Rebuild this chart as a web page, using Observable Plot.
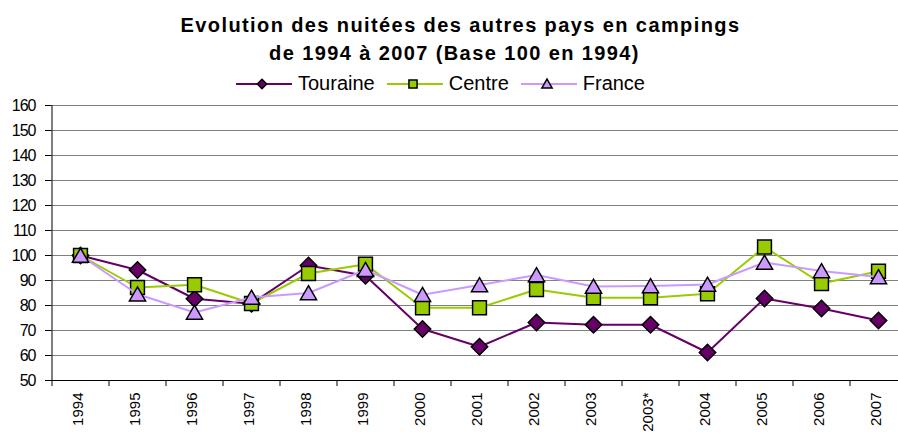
<!DOCTYPE html>
<html><head><meta charset="utf-8">
<script src="https://cdn.jsdelivr.net/npm/d3@7"></script>
<script src="https://cdn.jsdelivr.net/npm/@observablehq/plot@0.6"></script>
<style>
body{margin:0;background:#fff;font-family:"Liberation Sans",Arial,sans-serif;}
#wrap{position:relative;width:898px;height:434px;overflow:hidden;background:#fff;}
.t{position:absolute;left:0;text-align:center;font-weight:bold;font-size:20px;line-height:20px;letter-spacing:1.4px;white-space:nowrap;color:#000;}
#legend{position:absolute;left:236px;top:73px;display:flex;align-items:center;font-size:20px;line-height:20px;white-space:nowrap;color:#000;}
#legend .item{display:flex;align-items:center;margin-right:12px;}
#legend .item span{margin-left:6px;}
#chart{position:absolute;left:0;top:95px;}
#chart g[aria-label="y-axis tick label"] text{letter-spacing:-1px;}
</style></head>
<body>
<div id="wrap">
  <div class="t" style="top:15px;width:921px">Evolution des nuitées des autres pays en campings</div>
  <div class="t" style="top:43px;width:909px">de 1994 à 2007 (Base 100 en 1994)</div>
  <div id="legend"></div>
  <div id="chart"></div>
</div>
<script>
const years = ["1994","1995","1996","1997","1998","1999","2000","2001","2002","2003","2003*","2004","2005","2006","2007"];
const touraine = [100, 94.2, 82.7, 80.7, 96, 91.9, 70.6, 63.5, 73.2, 72.3, 72.3, 61.2, 82.8, 78.8, 74];
const centre   = [100, 87.2, 88.3, 80.8, 92.8, 96.5, 79.1, 79.1, 86.4, 83.1, 83.1, 84.7, 103.4, 88.8, 93.7];
const france   = [100, 84.5, 77.2, 83.2, 85, 94.3, 84.3, 88.2, 92.2, 87.6, 87.8, 88.4, 97.2, 93.8, 91.4];
const yTicks = [50, 60, 70, 80, 90, 100, 110, 120, 130, 140, 150, 160];
const seriesNames = ["Touraine", "Centre", "France"];
const seriesColors = ["#660066", "#99CC00", "#CC99FF"];
const seriesSymbols = ["diamond2", "square", "triangle"];

const seriesValues = [touraine, centre, france];
const series = seriesNames.map((name, k) => ({
  name, color: seriesColors[k], symbol: seriesSymbols[k],
  rows: years.map((year, i) => ({year, value: seriesValues[k][i], name}))
}));
const dotR = {diamond2: 7.4, square: 7.8, triangle: 6.0};
const dotDy = {diamond2: 0, square: 0, triangle: 2};

const marks = [
  Plot.gridY(yTicks.slice(1), {stroke: "#808080", strokeOpacity: 1, strokeWidth: 1}),
  Plot.axisY(yTicks, {tickSize: 6, tickPadding: 10, fontSize: 16, label: null, stroke: "#000"}),
  Plot.ruleY([yTicks[0]], {stroke: "#000", strokeWidth: 1}),
  Plot.ruleX([years[0]], {dx: -28.5, y1: yTicks[0], y2: yTicks[yTicks.length - 1], stroke: "#000"}),
  Plot.axisX(years, {tickSize: 6, dx: -28.5, tickFormat: () => "", label: null, stroke: "#000"}),
  Plot.axisX(years, {tickSize: 0, tickPadding: 12, tickRotate: -90, fontSize: 15, dx: -2, label: null})
];
for (const s of series) {
  marks.push(Plot.line(s.rows, {x: "year", y: "value", stroke: s.color, strokeWidth: 2}));
  marks.push(Plot.dot(s.rows, {x: "year", y: "value", symbol: s.symbol, r: dotR[s.symbol], dy: dotDy[s.symbol], fill: s.color, stroke: "#000", strokeWidth: 1.5}));
}

const chart = Plot.plot({
  width: 898, height: 339,
  marginTop: 10, marginBottom: 54, marginLeft: 51, marginRight: 0,
  style: {fontFamily: "'Liberation Sans', Arial, sans-serif", background: "transparent", color: "#000"},
  x: {type: "point", domain: years, range: [51, 906], padding: 0.5, align: 0.5, label: null},
  y: {domain: [yTicks[0], yTicks[yTicks.length - 1]], label: null},
  marks
});
document.getElementById("chart").appendChild(chart);

// legend
const legend = document.getElementById("legend");
const legSize = {diamond2: 4.2, square: 4.6, triangle: 3.8};
const d3Sym = {diamond2: d3.symbolDiamond2, square: d3.symbolSquare, triangle: d3.symbolTriangle};
for (const s of series) {
  const item = document.createElement("div");
  item.className = "item";
  const sym = d3.symbol(d3Sym[s.symbol], Math.PI * legSize[s.symbol] ** 2)();
  const ns = "http://www.w3.org/2000/svg";
  const svg = document.createElementNS(ns, "svg");
  svg.setAttribute("width", 56); svg.setAttribute("height", 20);
  const ln = document.createElementNS(ns, "line");
  ln.setAttribute("x1", 0); ln.setAttribute("x2", 56); ln.setAttribute("y1", 11); ln.setAttribute("y2", 11);
  ln.setAttribute("stroke", s.color); ln.setAttribute("stroke-width", 2);
  svg.appendChild(ln);
  const p = document.createElementNS(ns, "path");
  p.setAttribute("d", sym);
  p.setAttribute("transform", `translate(26,${s.symbol === "triangle" ? 12 : 11})`);
  p.setAttribute("fill", s.color); p.setAttribute("stroke", "#000"); p.setAttribute("stroke-width", 1.5);
  svg.appendChild(p);
  item.appendChild(svg);
  const sp = document.createElement("span");
  sp.textContent = s.name;
  item.appendChild(sp);
  legend.appendChild(item);
}
</script>
</body></html>
